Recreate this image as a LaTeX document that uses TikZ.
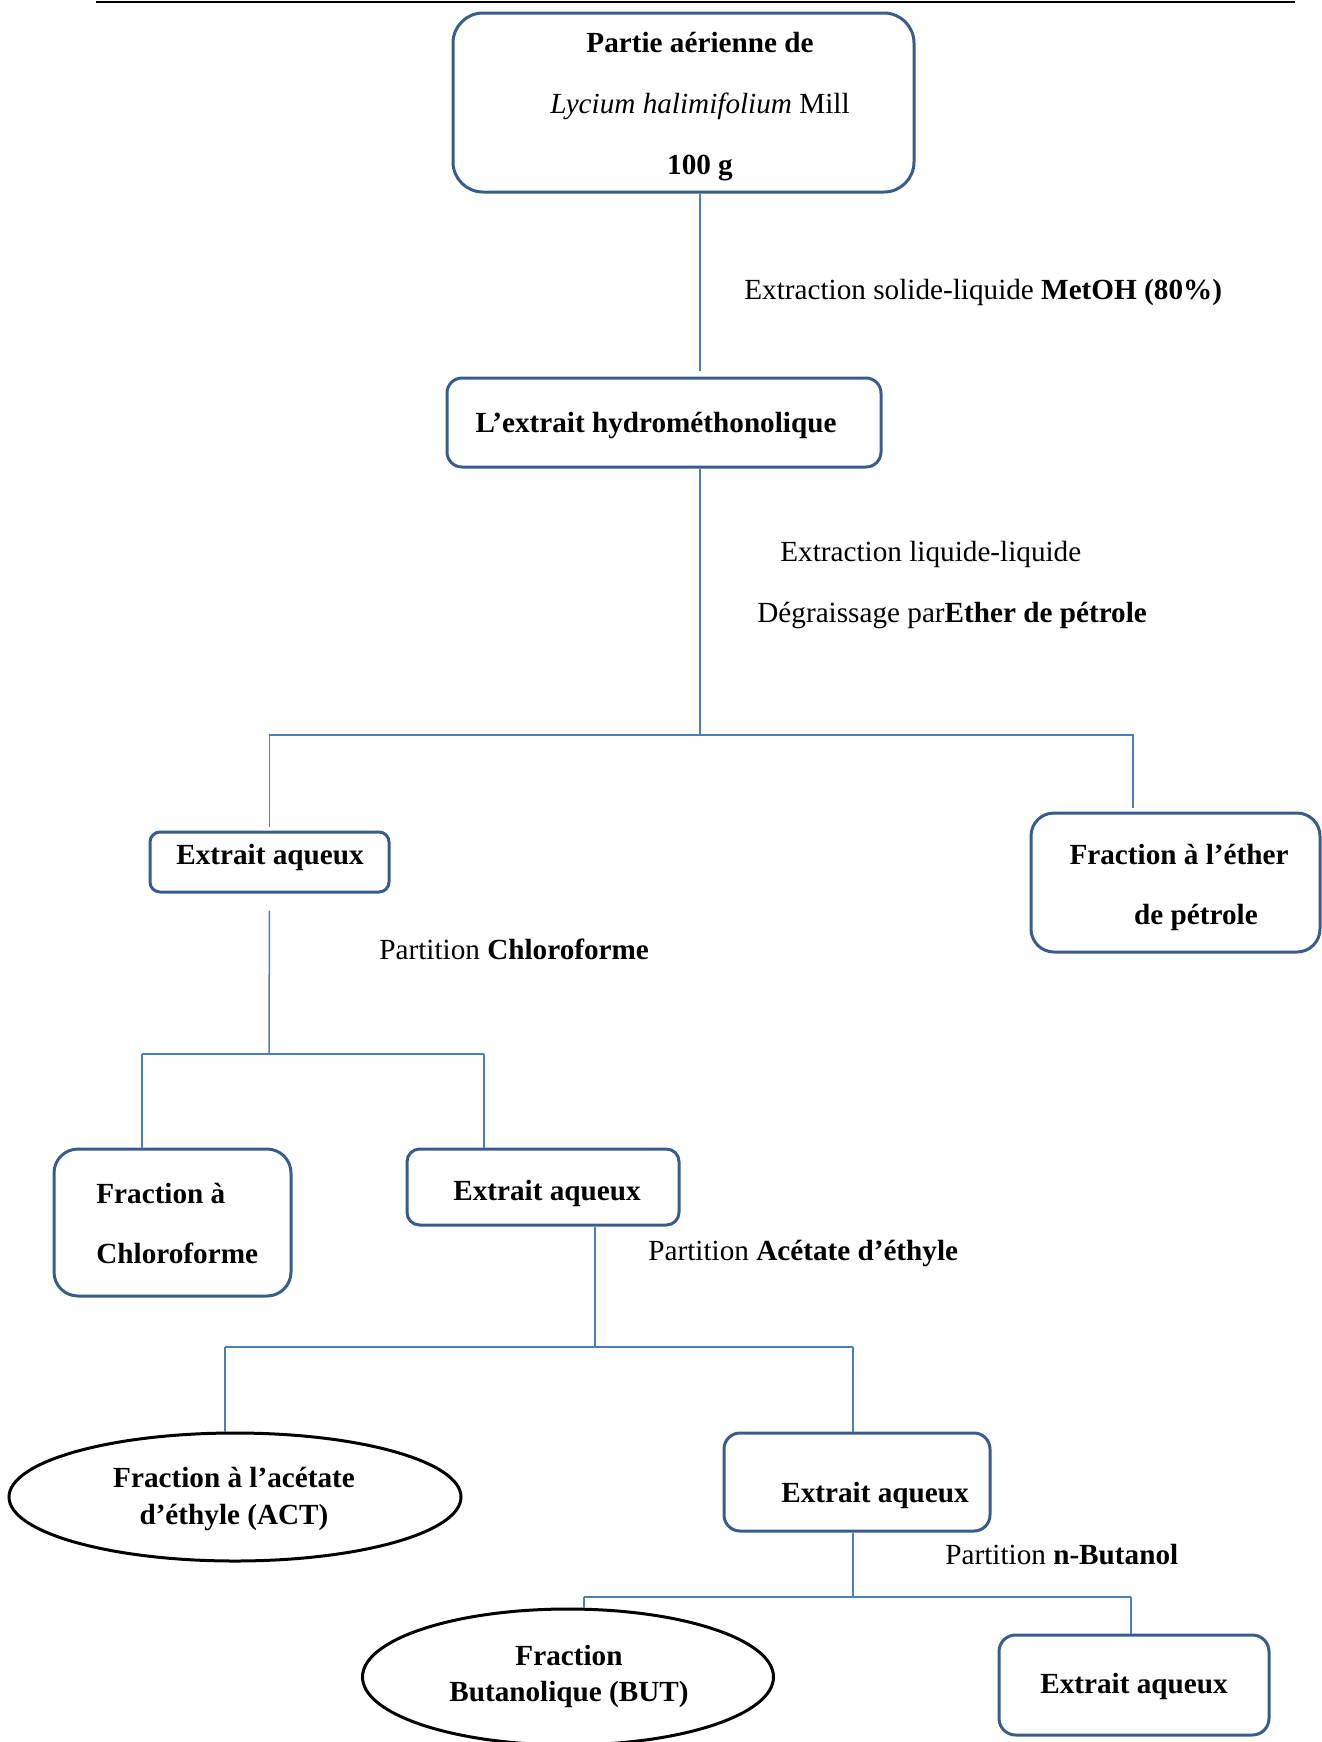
\documentclass[tikz,border=0pt]{standalone}
\usepackage{fontspec}
\setmainfont{Liberation Serif}
\usetikzlibrary{shapes.geometric}
\definecolor{boxblue}{HTML}{385D8A}
\definecolor{linkblue}{HTML}{4A7EBB}
\begin{document}
\begin{tikzpicture}[x=0.5pt,y=-0.5pt,
  boxr/.style={draw=boxblue, line width=1.5pt, rectangle, inner sep=0pt},
  oval/.style={draw=black, line width=1.5pt, ellipse, inner sep=0pt},
  txt/.style={inner sep=0pt, yshift=-1.75pt, font=\fontsize{14.6}{17.5}\selectfont, align=center},
  lbl/.style={inner sep=0pt, yshift=-1.5pt, anchor=west, font=\fontsize{14.6}{17.5}\selectfont},
  conn/.style={draw=linkblue, line width=0.75pt}]
\useasboundingbox (0,0) rectangle (1322,1742);

% top rule
\coordinate (rl) at (96,2);
\coordinate (rr) at (1295,2);
\draw[black, line width=1.4pt] (rl) -- (rr);

% boxes
\node[boxr, minimum width=230.5pt, minimum height=89.5pt, rounded corners=15pt] (b1) at (683.5,102.5) {};
\node[txt, font=\fontsize{14.6}{30.5}\selectfont] (t1) at (700,103)
  {\bfseries Partie aérienne de\\ \textit{\mdseries Lycium halimifolium}\mdseries\ Mill\\ \bfseries 100 g};

\node[boxr, minimum width=217pt, minimum height=44.5pt, rounded corners=7.5pt] (b2) at (664,422.5) {};
\node[txt, font=\fontsize{14.6}{17.5}\selectfont\bfseries] (t2) at (656,422) {L’extrait hydrométhonolique};

\node[boxr, minimum width=119.5pt, minimum height=30pt, rounded corners=5pt] (ea1) at (269.5,862) {};
\node[txt, font=\fontsize{14.6}{17.5}\selectfont\bfseries] (tea1) at (270,854) {Extrait aqueux};

\node[boxr, minimum width=144.5pt, minimum height=69.5pt, rounded corners=11.5pt] (fe) at (1175.5,882.5) {};
\node[txt, font=\fontsize{14.6}{30}\selectfont\bfseries] (tfe) at (1179,884) {Fraction à l’éther\\ \hspace*{17pt}de pétrole};

\node[boxr, minimum width=118.5pt, minimum height=73.5pt, rounded corners=12pt] (fc) at (172.5,1222.5) {};
\node[txt, align=left, anchor=west, font=\fontsize{14.6}{30}\selectfont\bfseries] (tfc) at (96,1220) {Fraction à\\ Chloroforme};

\node[boxr, minimum width=136pt, minimum height=38pt, rounded corners=6.3pt] (ea2) at (543,1187) {};
\node[txt, font=\fontsize{14.6}{17.5}\selectfont\bfseries] (tea2) at (547,1190) {Extrait aqueux};

\node[oval, minimum width=226pt, minimum height=64pt] (act) at (235,1497) {};
\node[txt, font=\fontsize{14.6}{18.5}\selectfont\bfseries] (tact) at (234,1495) {Fraction à l’acétate\\ d’éthyle (ACT)};

\node[boxr, minimum width=133pt, minimum height=49pt, rounded corners=8pt] (ea3) at (857,1482) {};
\node[txt, font=\fontsize{14.6}{17.5}\selectfont\bfseries] (tea3) at (875,1492) {Extrait aqueux};

\node[oval, minimum width=205.5pt, minimum height=68pt] (but) at (568,1677) {};
\node[txt, font=\fontsize{14.6}{18}\selectfont\bfseries] (tbut) at (569,1673) {Fraction\\ Butanolique (BUT)};

\node[boxr, minimum width=135pt, minimum height=50pt, rounded corners=8.3pt] (ea4) at (1134,1685) {};
\node[txt, font=\fontsize{14.6}{17.5}\selectfont\bfseries] (tea4) at (1134,1683) {Extrait aqueux};

% labels
\node[lbl] (l1) at (744,289) {Extraction solide-liquide \textbf{MetOH (80\%)}};
\node[lbl] (l2) at (780,551) {Extraction liquide-liquide};
\node[lbl] (l3) at (757,612) {Dégraissage par\textbf{Ether de pétrole}};
\node[lbl] (l4) at (379,946) {Partition \textbf{Chloroforme}};
\node[lbl] (l5) at (648,1250) {Partition \textbf{Acétate d’éthyle}};
\node[lbl] (l6) at (945,1552) {Partition \textbf{n-Butanol}};

% connectors
\coordinate (j1) at (700,735);
\coordinate (j1r) at (1133,735);
\draw[conn, shorten >=3pt] (b1.south -| j1) -- (b2.north -| j1);
\draw[conn] (b2.south -| j1) -- (j1);
\draw[conn, shorten <=2pt] (ea1.north) |- (j1);
\draw[conn, shorten >=2pt] (j1) -- (j1r) -- (j1r |- fe.north);

\coordinate (j2) at (269,1054);
\coordinate (j2l) at (142,1054);
\coordinate (j2r) at (484,1054);
\draw[conn, shorten <=8.5pt] (ea1.south) -- (j2);
\draw[conn] (j2l) -- (j2r);
\draw[conn] (j2l) -- (j2l |- fc.north);
\draw[conn] (j2r) -- (j2r |- ea2.north);

\coordinate (j3) at (595,1347);
\coordinate (j3l) at (225,1347);
\coordinate (j3r) at (853,1347);
\draw[conn] (ea2.south -| j3) -- (j3);
\draw[conn] (j3l) -- (j3r);
\draw[conn] (j3l) -- (j3l |- act.north);
\draw[conn] (j3r) -- (j3r |- ea3.north);

\coordinate (j4) at (853,1597);
\coordinate (j4l) at (584,1597);
\coordinate (j4r) at (1131,1597);
\draw[conn] (ea3.south -| j4) -- (j4);
\draw[conn] (j4l) -- (j4r);
\draw[conn] (j4l) -- (j4l |- but.north);
\draw[conn] (j4r) -- (j4r |- ea4.north);
\end{tikzpicture}
\end{document}
